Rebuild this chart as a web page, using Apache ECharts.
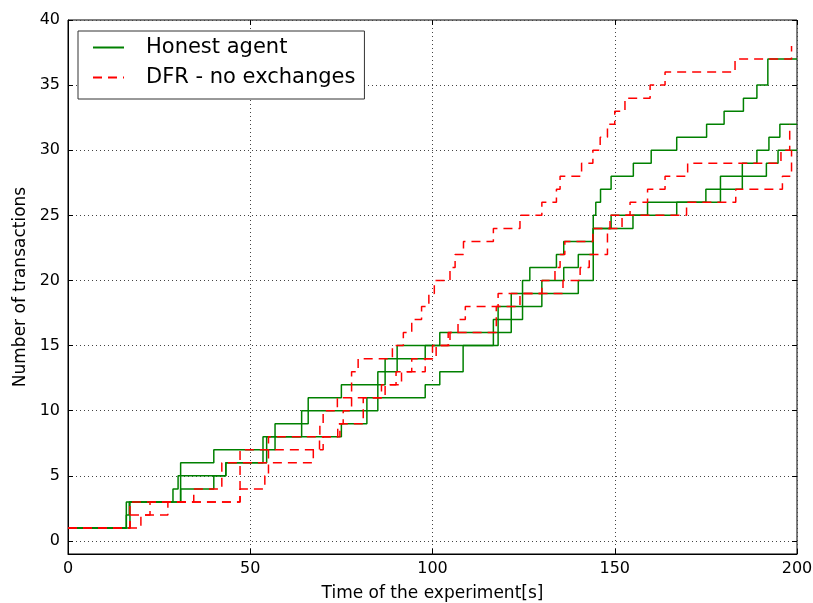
<!DOCTYPE html>
<html>
<head>
<meta charset="utf-8">
<script src="https://cdn.jsdelivr.net/npm/echarts@6/dist/echarts.min.js"></script>
<style>
  html, body { margin: 0; padding: 0; background: #fff; overflow: hidden; }
  #chart { width: 813px; height: 603px; }
</style>
</head>
<body>
<div id="chart"></div>
<script>
// ---- data: [time (s), number of transactions] change points ----
const honestRun1 = [[0,1],[16,3],[30.9,6],[40,7],[56.8,9],[65.9,11],[75,12],[87,14],[98,15],[102,16],[118,18],[124.7,20],[126.7,21],[134,22],[136,23],[144.1,25],[144.8,26],[146.1,27],[149,28],[155.1,29],[160,30],[167,31],[175.2,32],[180,33],[185.3,34],[189,35],[192,37],[200,37]];
const honestRun2 = [[0,1],[16,2],[16.8,3],[28.8,4],[30.2,5],[43.3,6],[53.5,8],[64.1,10],[85,13],[90.3,15],[116.7,17],[121.6,19],[130,20],[136,21],[140,22],[144.1,24],[149,25],[159,26],[175,27],[185,29],[189,30],[192.3,31],[195.3,32],[200,32]];
const honestRun3 = [[0,1],[17,3],[30.9,4],[40,5],[43.3,6],[54.5,8],[75,9],[82,11],[98,12],[102,13],[108.4,15],[118,16],[121.6,17],[124.7,18],[130,19],[140,20],[144.1,24],[155,25],[167,26],[179,28],[191.6,29],[194.8,30],[200,30]];
const dfrRun1 = [[0,1],[17,3],[34.5,4],[42.2,6],[47.2,7],[55,8],[69.1,9],[70,10],[73.9,11],[77.8,13],[79.6,14],[89,15],[92,16],[94.3,17],[97,18],[99,19],[100.5,20],[104.8,21],[106.2,22],[108.5,23],[116.7,24],[124,25],[130,26],[134,27],[135,28],[140.9,29],[144,30],[146,31],[148,32],[150,33],[152.8,34],[159.7,35],[163.8,36],[183,37],[198.5,38]];
const dfrRun2 = [[0,1],[17,2],[22.5,3],[47.2,6],[55,7],[69,8],[74.6,9],[75.5,10],[77.8,11],[86,12],[90,13],[94.3,14],[100,15],[104.3,16],[107,17],[109,18],[118,19],[130,20],[133.6,21],[135,22],[136.3,23],[144,24],[148.7,25],[154.2,26],[159,27],[163.8,28],[170,29],[195.6,30],[198,32]];
const dfrRun3 = [[0,1],[20,2],[27.4,3],[47.2,4],[54,5],[55,6],[67.3,7],[70,8],[74,9],[81,11],[87,12],[91.5,13],[98,14],[101,15],[104.8,16],[117.5,18],[124,19],[135.8,20],[140.5,21],[143,22],[148,24],[152,25],[169.7,26],[183.2,27],[196,28],[198.5,30]];

const seriesNames = ['Honest agent', 'DFR - no exchanges'];
const xRange = [0, 200];
const xStep = 50;
const yRange = [-1, 40];
const yStep = 5;

const FONT = 'DejaVu Sans';
const chart = echarts.init(document.getElementById('chart'), null, { renderer: 'canvas', width: 813, height: 603 });

function honest(data) {
  return {
    name: seriesNames[0], type: 'line', step: 'end', data: data,
    showSymbol: false, symbol: 'none', animation: false, z: 2,
    lineStyle: { color: '#008000', width: 1.5 },
    itemStyle: { color: '#008000' }
  };
}
function dfr(data) {
  return {
    name: seriesNames[1], type: 'line', step: 'end', data: data,
    showSymbol: false, symbol: 'none', animation: false, z: 3,
    lineStyle: { color: '#ff0000', width: 1.5, type: [9, 6] },
    itemStyle: { color: '#ff0000' }
  };
}

const gridLine = { show: true, lineStyle: { color: '#444', type: [1, 3], width: 1 } };
const tickIn = { show: true, inside: true, length: 5, lineStyle: { color: '#000', width: 1 } };

const option = {
  backgroundColor: '#fff',
  animation: false,
  grid: { left: 68, right: 16, top: 20, bottom: 49, show: true, borderColor: '#000', borderWidth: 1, containLabel: false, outerBoundsMode: 'none' },
  legend: {
    data: seriesNames,
    orient: 'vertical',
    left: 78, top: 31,
    itemWidth: 31, itemHeight: 14, itemGap: 9,
    padding: [6, 9, 11, 14],
    borderColor: '#333', borderWidth: 1, borderRadius: 0,
    backgroundColor: '#fff',
    itemStyle: { color: 'rgba(0,0,0,0)', borderWidth: 0, opacity: 0 },
    textStyle: { fontFamily: FONT, fontSize: 21, color: '#000', padding: [0, 0, 0, 17] },
    selectedMode: false
  },
  xAxis: [
    {
      type: 'value', min: xRange[0], max: xRange[1], interval: xStep, position: 'bottom',
      name: 'Time of the experiment[s]', nameLocation: 'middle', nameGap: 31,
      nameTextStyle: { fontFamily: FONT, fontSize: 17, color: '#000' },
      axisLine: { show: true, onZero: false, lineStyle: { color: '#000', width: 1 } },
      axisTick: tickIn,
      axisLabel: { fontFamily: FONT, fontSize: 16, color: '#000', margin: 7 },
      splitLine: gridLine
    },
    {
      type: 'value', min: xRange[0], max: xRange[1], interval: xStep, position: 'top',
      axisLine: { show: false, onZero: false }, axisTick: tickIn, axisLabel: { show: false }, splitLine: { show: false }
    }
  ],
  yAxis: [
    {
      type: 'value', min: yRange[0], max: yRange[1], minInterval: yStep, maxInterval: yStep, splitNumber: 8,
      name: 'Number of transactions', nameLocation: 'middle', nameGap: 39, nameRotate: 90,
      nameTextStyle: { fontFamily: FONT, fontSize: 17, color: '#000' },
      axisLine: { show: true, onZero: false, lineStyle: { color: '#000', width: 1 } },
      axisTick: tickIn,
      axisLabel: { fontFamily: FONT, fontSize: 16, color: '#000', margin: 8, showMinLabel: false },
      splitLine: gridLine
    },
    {
      type: 'value', min: yRange[0], max: yRange[1], minInterval: yStep, maxInterval: yStep, splitNumber: 8, position: 'right',
      axisLine: { show: false, onZero: false }, axisTick: tickIn, axisLabel: { show: false }, splitLine: { show: false }
    }
  ],
  series: [
    honest(honestRun1), honest(honestRun2), honest(honestRun3),
    dfr(dfrRun1), dfr(dfrRun2), dfr(dfrRun3)
  ]
};
chart.setOption(option);
</script>
</body>
</html>
